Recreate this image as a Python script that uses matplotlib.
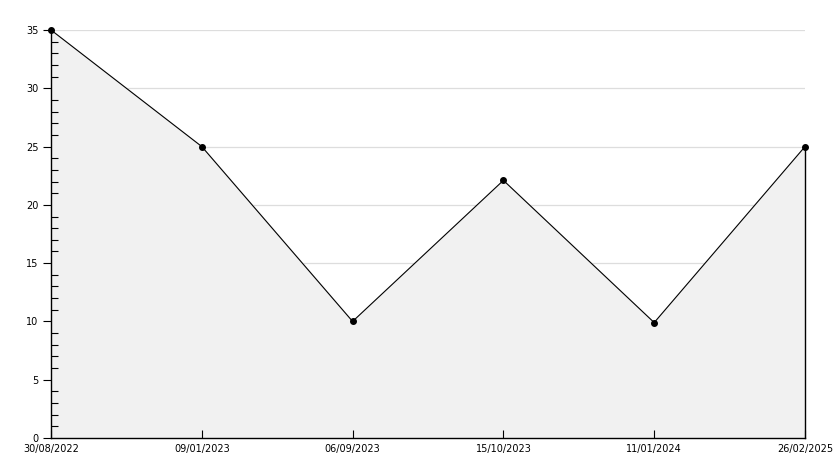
import matplotlib
matplotlib.use("Agg")
import matplotlib.pyplot as plt
from matplotlib.ticker import MultipleLocator

dates = ["30/08/2022", "09/01/2023", "06/09/2023", "15/10/2023", "11/01/2024", "26/02/2025"]
values = [35, 25, 10, 22.1, 9.9, 25]
grid_levels = [5, 10, 15, 20, 25, 30, 35]

fig = plt.figure(figsize=(8.34, 4.68), dpi=100)
W, H = 834, 468
ax = fig.add_axes([51 / W, 1 - 438 / H, (805 - 51) / W, (438 - 30) / H])

x = list(range(len(dates)))
for g in grid_levels:
    ax.axhline(g, color="#dddddd", lw=0.9, zorder=0.3)
ax.fill_between(x, values, 0, color="#f1f1f1", zorder=1)
ax.plot([x[-1], x[-1]], [0, values[-1]], color="black", lw=1.0, zorder=3, clip_on=False)
ax.plot(x, values, color="black", lw=0.8, zorder=3, clip_on=False)
ax.plot(x, values, "o", color="black", ms=4, zorder=4, clip_on=False)

ax.set_xlim(0, len(dates) - 1)
ax.set_ylim(0, 35)
ax.set_xticks(x)
ax.set_xticklabels(dates)
ax.yaxis.set_major_locator(MultipleLocator(5))
ax.yaxis.set_minor_locator(MultipleLocator(1))
ax.set_axisbelow(False)

ax.spines["top"].set_visible(False)
ax.spines["right"].set_visible(False)
for s in ["left", "bottom"]:
    ax.spines[s].set_color("black")
    ax.spines[s].set_linewidth(1.0)

ax.tick_params(axis="x", direction="in", length=6, width=0.8, labelsize=7, pad=4)
ax.tick_params(axis="y", which="major", direction="out", length=6, width=0.8, labelsize=7, pad=3)
ax.tick_params(axis="y", which="minor", direction="in", length=5, width=0.8)
for lbl in ax.get_yticklabels():
    pass

fig.savefig("out.png", dpi=100)
